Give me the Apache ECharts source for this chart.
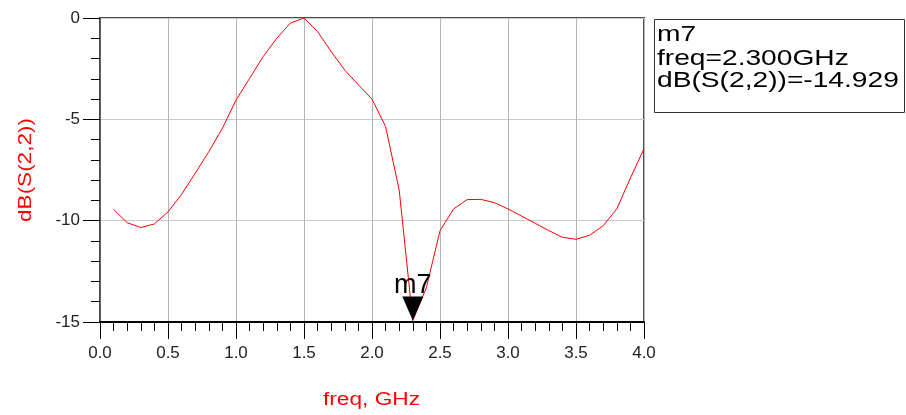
<!DOCTYPE html>
<html>
<head>
<meta charset="utf-8">
<script src="https://cdn.jsdelivr.net/npm/echarts@6/dist/echarts.min.js"></script>
<style>
html,body{margin:0;padding:0;background:#fff;}
#chart{width:906px;height:415px;}
</style>
</head>
<body>
<div id="chart"></div>
<script>
// ---- data ----
const freq = [0.1,0.2,0.3,0.4,0.5,0.6,0.7,0.8,0.9,1.0,1.1,1.2,1.3,1.4,1.5,1.6,1.7,1.8,1.9,2.0,
              2.1,2.2,2.3,2.4,2.5,2.6,2.7,2.8,2.9,3.0,3.1,3.2,3.3,3.4,3.5,3.6,3.7,3.8,3.9,4.0];
const s22dB = [-9.44,-10.1,-10.34,-10.16,-9.57,-8.7,-7.66,-6.6,-5.44,-4.05,-2.98,-1.9,-1.0,-0.25,0.0,-0.67,-1.66,-2.57,-3.3,-4.0,
               -5.36,-8.49,-14.929,-13.3,-10.5,-9.42,-8.96,-8.95,-9.11,-9.42,-9.77,-10.13,-10.49,-10.82,-10.92,-10.72,-10.25,-9.42,-7.9,-6.45];
const markerName = 'm7';
const markerFreq = 2.3;
const markerDb = -14.929;
const xLabel = 'freq, GHz';
const yLabel = 'dB(S(2,2))';

const FONT = '"Liberation Sans", Arial, sans-serif';
const chart = echarts.init(document.getElementById('chart'), null, {renderer: 'canvas'});

const option = {
  animation: false,
  backgroundColor: '#fff',
  grid: {left: 100, right: 262, top: 18, bottom: 93, show: true, borderColor: '#505050', borderWidth: 2, backgroundColor: 'transparent'},
  xAxis: {
    type: 'value', min: 0, max: 4, interval: 0.5,
    axisLine: {show: true, onZero: false, lineStyle: {color: '#000', width: 2}},
    axisTick: {show: true, length: 17, lineStyle: {color: '#000', width: 1}},
    minorTick: {show: true, splitNumber: 5, length: 9, lineStyle: {color: '#000', width: 1}},
    splitLine: {show: true, lineStyle: {color: '#b4b4b4', width: 1}},
    axisLabel: {fontFamily: FONT, fontSize: 17, color: '#222', margin: 23, formatter: v => v.toFixed(1)}
  },
  yAxis: {
    type: 'value', min: -15, max: 0, interval: 5,
    axisLine: {show: true, onZero: false, lineStyle: {color: '#444', width: 1.5}},
    axisTick: {show: true, length: 17, lineStyle: {color: '#000', width: 1}},
    minorTick: {show: true, splitNumber: 5, length: 9, lineStyle: {color: '#000', width: 1}},
    splitLine: {show: true, lineStyle: {color: '#c8c8c8', width: 1}},
    axisLabel: {fontFamily: FONT, fontSize: 17, color: '#222', margin: 20}
  },
  series: [{
    type: 'line',
    data: freq.map((f, i) => [f, s22dB[i]]),
    showSymbol: false,
    lineStyle: {color: '#ff0000', width: 1},
    itemStyle: {color: '#ff0000'},
    markPoint: {
      symbol: 'path://M0,0 L20,0 L10,22 Z',
      symbolSize: [21, 24],
      symbolOffset: [0, -12],
      itemStyle: {color: '#000'},
      label: {show: true, position: 'top', distance: -2, formatter: markerName, fontFamily: FONT, fontSize: 27, color: '#000'},
      data: [{coord: [markerFreq, markerDb]}]
    }
  }],
  graphic: [
    {type: 'rect', shape: {x: 654.5, y: 19.5, width: 250, height: 93}, style: {fill: 'none', stroke: '#333', lineWidth: 1}, z: 10},
    {type: 'text', x: 657, y: 35, scaleX: 1.28, style: {text: markerName, font: '22px ' + FONT, fill: '#000', textAlign: 'left', textVerticalAlign: 'middle'}, z: 10},
    {type: 'text', x: 657, y: 59, scaleX: 1.28, style: {text: 'freq=' + markerFreq.toFixed(3) + 'GHz', font: '22px ' + FONT, fill: '#000', textAlign: 'left', textVerticalAlign: 'middle'}, z: 10},
    {type: 'text', x: 657, y: 81, scaleX: 1.28, style: {text: 'dB(S(2,2))=' + markerDb.toFixed(3), font: '22px ' + FONT, fill: '#000', textAlign: 'left', textVerticalAlign: 'middle'}, z: 10},
    {type: 'text', x: 371.5, y: 400, scaleX: 1.26, style: {text: xLabel, font: '18px ' + FONT, fill: '#ff0000', textAlign: 'center', textVerticalAlign: 'middle'}, z: 10},
    {type: 'text', x: 26.5, y: 170, rotation: Math.PI / 2, scaleX: 1.25, style: {text: yLabel, font: '18px ' + FONT, fill: '#ff0000', textAlign: 'center', textVerticalAlign: 'middle'}, z: 10}
  ]
};
chart.setOption(option);
</script>
</body>
</html>
